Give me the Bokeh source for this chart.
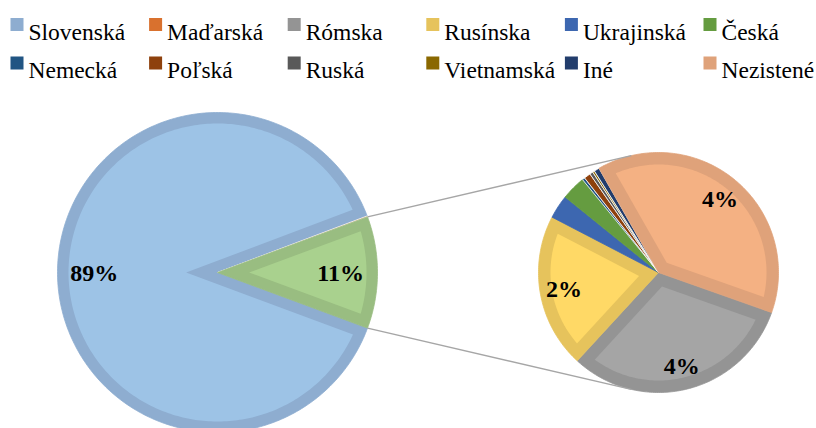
import math
from bokeh.plotting import figure
from bokeh.models import Range1d
from bokeh.embed import file_html
from bokeh.resources import INLINE
from bokeh.core.properties import value

# ---------------- data ----------------
categories = ["Slovenská", "Maďarská", "Rómska", "Rusínska", "Ukrajinská", "Česká",
              "Nemecká", "Poľská", "Ruská", "Vietnamská", "Iné", "Nezistené"]
values = [88.6, 0.1, 3.55, 2.35, 0.36, 0.37, 0.04, 0.10, 0.05, 0.03, 0.08, 4.37]
n_first = 2  # first two categories in the main pie, the rest in the second pie

fill_colors = ["#9DC3E6", "#ED7D31", "#A5A5A5", "#FFD966", "#4472C4", "#70AD47",
               "#255E91", "#9E480E", "#636363", "#997300", "#264478", "#F4B183"]
edge_colors = ["#8EADD0", "#D9712E", "#949494", "#E6C35C", "#3D67B0", "#659C40",
               "#215583", "#8E410D", "#595959", "#8A6800", "#223D6C", "#DFA27A"]
other_fill = "#A9D18E"
other_edge = "#99BD81"

# ---------------- layout constants ----------------
W, H = 816, 428
C1 = (217.0, 156.0); R1 = 160.0; B1 = 11.0
C2 = (658.0, 156.0); R2 = 120.0; B2 = 12.0
second_start = -19.5
FONT = "Liberation Serif"

total = sum(values)
second_vals = values[n_first:]
other_val = sum(second_vals)


def arc(c, r, a0, a1, n=None):
    # clockwise from a0 down to a1 (degrees)
    if n is None:
        n = max(2, int(abs(a0 - a1) / 1.0) + 2)
    xs, ys = [], []
    for k in range(n):
        a = math.radians(a0 + (a1 - a0) * k / (n - 1))
        xs.append(c[0] + r * math.cos(a))
        ys.append(c[1] + r * math.sin(a))
    return xs, ys


def outer_poly(c, r, a0, a1):
    xs, ys = arc(c, r, a0, a1)
    return [c[0]] + xs, [c[1]] + ys


def inner_poly(c, r, a0, a1, w):
    sweep = a0 - a1
    h = math.radians(sweep / 2.0)
    mid = math.radians((a0 + a1) / 2.0)
    sh = math.sin(h)
    if sh <= 1e-6:
        return None
    s = w / sh
    R = r - w
    if s >= R * 0.98:
        return None
    px = c[0] + s * math.cos(mid)
    py = c[1] + s * math.sin(mid)
    pts = []
    for a in (a0, a1):
        ua = math.radians(a)
        ux, uy = math.cos(ua), math.sin(ua)
        dx, dy = px - c[0], py - c[1]
        b = dx * ux + dy * uy
        cc = dx * dx + dy * dy - R * R
        t = -b + math.sqrt(b * b - cc)
        qx, qy = px + t * ux, py + t * uy
        pts.append(math.degrees(math.atan2(qy - c[1], qx - c[0])))
    t0, t1 = pts
    while t0 < t1:
        t0 += 360
    while t0 - t1 > 360:
        t0 -= 360
    xs, ys = arc(c, R, t0, t1)
    return [px] + xs, [py] + ys


slices = []
h_other = other_val / total * 360 / 2.0
slices.append((other_val, other_fill, other_edge, C1, R1, B1, h_other, -h_other))
a = h_other
first_slices = []
for i in reversed(range(n_first)):
    sw = values[i] / total * 360
    first_slices.append((values[i], fill_colors[i], edge_colors[i], C1, R1, B1, a + sw, a))
    a += sw
slices = list(reversed(first_slices)) + slices
a = second_start
for j, v in enumerate(second_vals):
    i = n_first + j
    sw = v / other_val * 360
    slices.append((v, fill_colors[i], edge_colors[i], C2, R2, B2, a, a - sw))
    a -= sw

p = figure(width=W, height=H, x_range=Range1d(0, W), y_range=Range1d(0, H),
           x_axis_type=None, y_axis_type=None, toolbar_location=None,
           output_backend="svg", min_border=0, outline_line_color=None)
p.background_fill_color = "white"
p.border_fill_color = "white"

ox, oy, oc, ol = [], [], [], []
ix, iy, ic = [], [], []
for (v, fc, ec, c, r, b, a0, a1) in slices:
    xs, ys = outer_poly(c, r, a0, a1)
    small = (a0 - a1) < 4.0
    ox.append(xs); oy.append(ys); oc.append(ec); ol.append("white" if small else ec)
    ip = inner_poly(c, r, a0, a1, b)
    if ip is not None:
        ix.append(ip[0]); iy.append(ip[1]); ic.append(fc)

p.patches(xs=ox, ys=oy, fill_color=oc, line_color=ol, line_width=0.8)
p.patches(xs=ix, ys=iy, fill_color=ic, line_color=None)

# connector lines: tangents from the "other" slice edges to the second pie
sx, sy, ex, ey = [], [], [], []
for sign in (1, -1):
    ang = math.radians(sign * h_other)
    Ex, Ey = C1[0] + R1 * math.cos(ang), C1[1] + R1 * math.sin(ang)
    d = math.hypot(Ex - C2[0], Ey - C2[1])
    base = math.atan2(Ey - C2[1], Ex - C2[0])
    phi = math.acos(R2 / d)
    t = base - phi if sign > 0 else base + phi
    sx.append(Ex); sy.append(Ey)
    ex.append(C2[0] + R2 * math.cos(t)); ey.append(C2[1] + R2 * math.sin(t))
p.segment(x0=sx, y0=sy, x1=ex, y1=ey, line_color="#A6A6A6", line_width=1.5)

# data labels
lx, ly, lt = [], [], []
for (v, fc, ec, c, r, b, a0, a1) in slices:
    pct = v / total * 100
    if pct < 1:
        continue
    mid = math.radians((a0 + a1) / 2.0)
    f = 0.77 if c is C1 else 0.8
    lx.append(c[0] + f * r * math.cos(mid))
    ly.append(c[1] + f * r * math.sin(mid))
    lt.append(f"{round(pct):d}%")
p.text(x=lx, y=ly, text=lt, text_font=value(FONT), text_font_style="bold",
       text_font_size="24px", text_align="center", text_baseline="middle",
       text_color="black")

# legend (2 rows x 6 columns)
ncol = 6
qx, qy, qc, tx, ty = [], [], [], [], []
for i, cat in enumerate(categories):
    col, row = i % ncol, i // ncol
    left = 10 + col * 138.6
    qx.append(left + 6.5)
    qy.append(H - (24 + row * 38.5))
    qc.append(edge_colors[i])
    tx.append(left + 18)
    ty.append(H - (31 + row * 38.5))
p.scatter(x=qx, y=qy, marker="square", size=13, fill_color=qc, line_color=None)
p.text(x=tx, y=ty, text=categories, text_font=value(FONT), text_font_size="23.5px",
       text_align="left", text_baseline="alphabetic", text_color="black")

open("out.html", "w").write(file_html(p, INLINE))
